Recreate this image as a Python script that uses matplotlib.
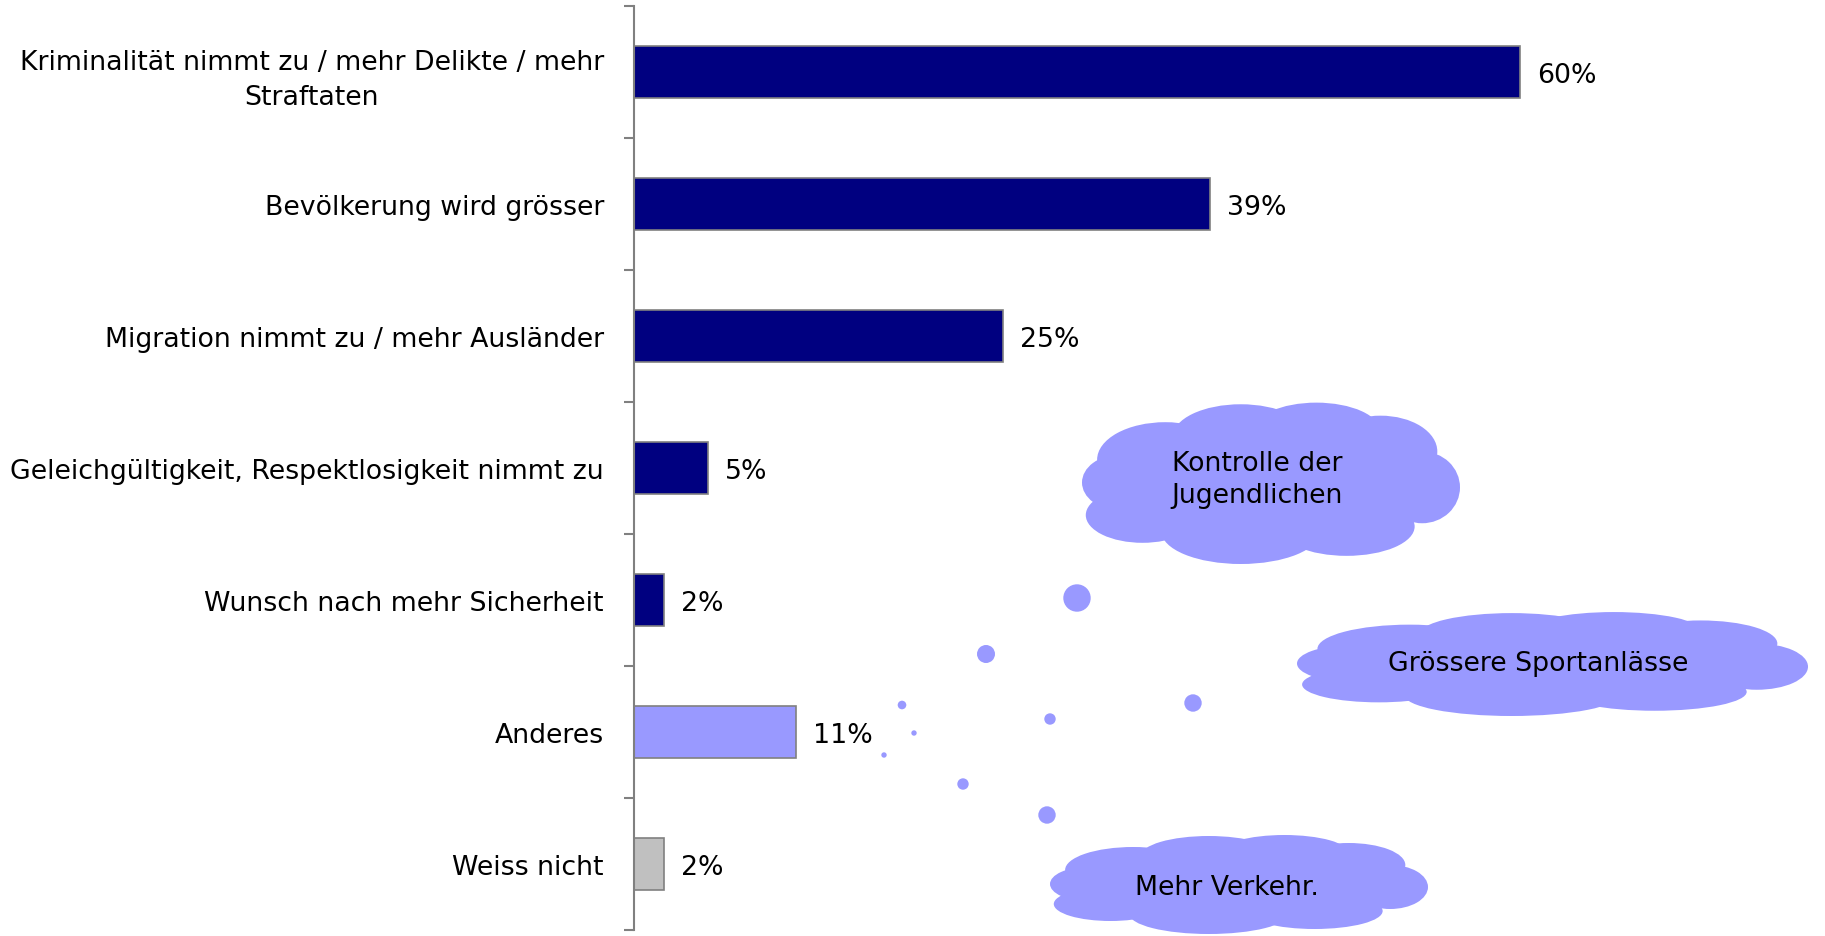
import matplotlib
matplotlib.use("Agg")
import matplotlib.pyplot as plt
from matplotlib.patches import Ellipse, Circle
from matplotlib.ticker import FixedLocator

plt.rcParams['font.family'] = ['DejaVu Sans']

# Survey answers and shares (percent)
categories = [
    "Kriminalität nimmt zu / mehr Delikte / mehr\nStraftaten",
    "Bevölkerung wird grösser",
    "Migration nimmt zu / mehr Ausländer",
    "Geleichgültigkeit, Respektlosigkeit nimmt zu",
    "Wunsch nach mehr Sicherheit",
    "Anderes",
    "Weiss nicht",
]
values = [60, 39, 25, 5, 2, 11, 2]
bar_colors = ["#000080", "#000080", "#000080", "#000080", "#000080", "#9999FF", "#C0C0C0"]

# Thought-cloud annotations for the "Anderes" answers
cloud_texts = ["Kontrolle der\nJugendlichen", "Grössere Sportanlässe", "Mehr Verkehr."]

W, H = 1825, 937
FS = 19.3
fig = plt.figure(figsize=(W / 100, H / 100), dpi=100)

ax_left, ax_top, ax_bottom = 634, 7, 931
ax = fig.add_axes([ax_left / W, (H - ax_bottom) / H, (W - ax_left) / W, (ax_bottom - ax_top) / H])
px_per_pct = (1520 - 634) / 60.0
ax.set_xlim(0, (W - ax_left) / px_per_pct)
ax.set_ylim(len(categories) - 0.5, -0.5)

y = list(range(len(categories)))
ax.barh(y, values, height=0.4, color=bar_colors, edgecolor="#808080", linewidth=1.2)
for yi, v in zip(y, values):
    ax.text(v + 17 / px_per_pct, yi + 0.02, f"{v}%", va="center", ha="left", fontsize=FS)

for s in ("top", "right", "bottom"):
    ax.spines[s].set_visible(False)
ax.spines["left"].set_color("#808080")
ax.spines["left"].set_linewidth(1.5)
ax.set_xticks([])
ax.set_yticks(y)
ax.set_yticklabels(categories, fontsize=FS, multialignment="center", linespacing=1.45)
ax.yaxis.set_minor_locator(FixedLocator([i - 0.5 for i in range(len(categories) + 1)]))
ax.tick_params(axis="y", which="major", length=0, pad=21.6)
ax.tick_params(axis="y", which="minor", length=7.2, width=1.5, color="#808080", direction="out")

# Overlay in pixel coordinates for the clouds and bubbles
ov = fig.add_axes([0, 0, 1, 1])
ov.set_xlim(0, W)
ov.set_ylim(H, 0)
ov.axis("off")
ov.patch.set_visible(False)

cloud_color = "#9999FF"
template = [
    (0.50, 0.50, 0.75, 0.60),
    (0.22, 0.36, 0.36, 0.46),
    (0.42, 0.22, 0.36, 0.40),
    (0.62, 0.19, 0.34, 0.36),
    (0.79, 0.31, 0.30, 0.44),
    (0.90, 0.53, 0.20, 0.44),
    (0.10, 0.50, 0.20, 0.34),
    (0.16, 0.70, 0.30, 0.34),
    (0.42, 0.80, 0.42, 0.40),
    (0.70, 0.77, 0.36, 0.36),
]


def cloud(x0, y0, x1, y1):
    w, h = x1 - x0, y1 - y0
    for cx, cy, ew, eh in template:
        ov.add_patch(Ellipse((x0 + cx * w, y0 + cy * h), ew * w, eh * h,
                             facecolor=cloud_color, edgecolor="none"))


cloud_boxes = [(1082, 402, 1460, 565), (1297, 612, 1808, 717), (1050, 835, 1428, 935)]
text_pos = [(1257, 480), (1538, 664), (1227, 888)]
for box, txt, (tx, ty) in zip(cloud_boxes, cloud_texts, text_pos):
    cloud(*box)
    ov.text(tx, ty, txt, ha="center", va="center", fontsize=FS, multialignment="center",
            linespacing=1.3)

bubbles = [(1077, 599, 13.7), (986, 655, 9), (902, 706, 4.3), (914, 734, 2.7),
           (884, 756, 2.7), (1050, 720, 5.7), (1193, 704, 8.7), (963, 785, 5.7),
           (1047, 816, 8.7)]
for bx, by, r in bubbles:
    ov.add_patch(Circle((bx, by), r, facecolor=cloud_color, edgecolor="none"))

fig.savefig("out.png", dpi=100)
